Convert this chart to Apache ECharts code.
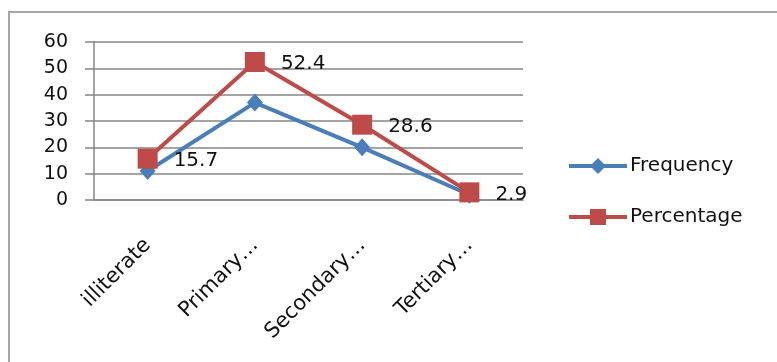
<!DOCTYPE html>
<html lang="en">
  <head>
    <meta charset="UTF-8" />
    <script src="https://cdn.jsdelivr.net/npm/echarts@6.0.0/dist/echarts.min.js"></script>
    <title>Education level</title>
    <style>
      body { margin: 0; background: #fff; }
      #container { width: 777px; height: 362px; }
    </style>
  </head>
  <body>
    <div id="container"></div>
    <script>
      // values
      const categories = ["illiterate", "Primary…", "Secondary…", "Tertiary…"];
      const frequency = [11, 37, 20, 2];
      const percentage = [15.7, 52.4, 28.6, 2.9];
      const yTicks = [0, 10, 20, 30, 40, 50, 60];

      const font = "DejaVu Sans";
      const chart = echarts.init(document.getElementById("container"), null, { renderer: "canvas" });

      const option = {
        animation: false,
        graphic: [
          {
            type: "rect",
            shape: { x: 9, y: 12, width: 800, height: 400 },
            style: { fill: "none", stroke: "#a6a6a6", lineWidth: 2 },
            silent: true
          }
        ],
        grid: { left: 94, right: 254, top: 42, bottom: 162 },
        legend: {
          orient: "vertical",
          left: 562,
          top: 151,
          itemWidth: 58,
          itemHeight: 20,
          itemGap: 31,
          lineStyle: { width: 4 },
          textStyle: { fontFamily: font, fontSize: 20, color: "#111", padding: [0, 0, 0, -2] },
          data: ["Frequency", "Percentage"]
        },
        xAxis: {
          type: "category",
          data: categories,
          axisLine: { lineStyle: { color: "#868686", width: 1.5 } },
          axisTick: { length: 8, lineStyle: { color: "#868686", width: 1.5 } },
          axisLabel: {
            rotate: 45,
            margin: 42,
            fontFamily: font,
            fontSize: 21,
            color: "#111"
          }
        },
        yAxis: {
          type: "value",
          min: yTicks[0],
          max: yTicks[yTicks.length - 1],
          interval: 10,
          axisLine: { show: true, lineStyle: { color: "#868686", width: 1.5 } },
          axisTick: { show: true, inside: false, length: 9, lineStyle: { color: "#868686", width: 1.5 } },
          splitLine: { lineStyle: { color: "#868686", width: 1.5 } },
          axisLabel: { margin: 26, fontFamily: font, fontSize: 19, color: "#111" }
        },
        series: [
          {
            name: "Frequency",
            type: "line",
            data: frequency,
            symbol: "diamond",
            symbolSize: [16, 18],
            lineStyle: { color: "#4a7ebb", width: 4 },
            itemStyle: { color: "#4a7ebb" },
            z: 2
          },
          {
            name: "Percentage",
            type: "line",
            data: percentage,
            symbol: "rect",
            symbolSize: 20,
            lineStyle: { color: "#be4b48", width: 4 },
            itemStyle: { color: "#be4b48" },
            label: {
              show: true,
              position: "right",
              distance: 16,
              offset: [0, 2],
              fontFamily: font,
              fontSize: 20,
              color: "#111"
            },
            z: 3
          }
        ]
      };

      chart.setOption(option);
      window.addEventListener("resize", chart.resize);
    </script>
  </body>
</html>
